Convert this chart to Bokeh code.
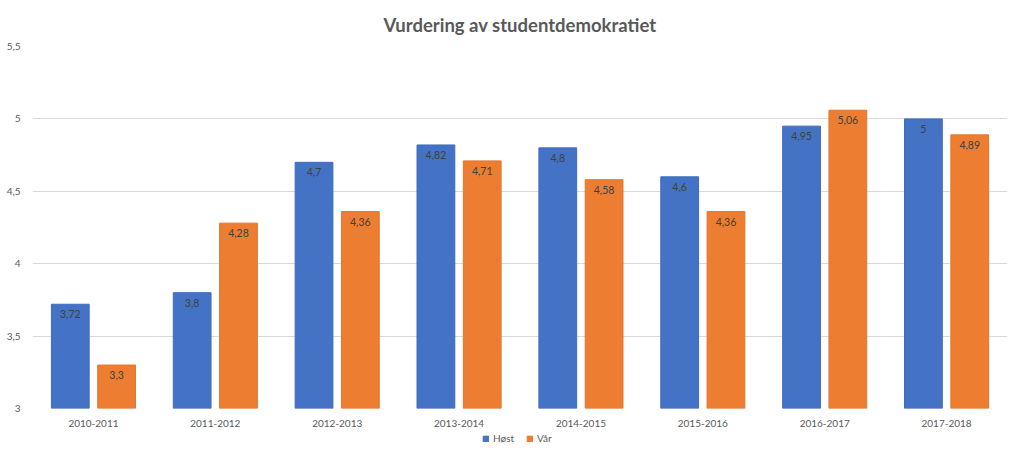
from bokeh.plotting import figure
from bokeh.layouts import column
from bokeh.models import (ColumnDataSource, Range1d, FixedTicker, CustomJSTickFormatter,
                          Legend, LegendItem)
from bokeh.transform import dodge
from bokeh.core.properties import value
from bokeh.embed import file_html
from bokeh.resources import INLINE

years = ["2010-2011", "2011-2012", "2012-2013", "2013-2014",
         "2014-2015", "2015-2016", "2016-2017", "2017-2018"]
host = [3.72, 3.8, 4.7, 4.82, 4.8, 4.6, 4.95, 5.0]
var = [3.3, 4.28, 4.36, 4.71, 4.58, 4.36, 5.06, 4.89]
y_ticks = [3, 3.5, 4, 4.5, 5, 5.5]
series = ["Høst", "Vår"]
colors = ["#4472C4", "#ED7D31"]
edges = ["#3F6CBE", "#E2762C"]

def fmt(v):
    return ("%g" % v).replace(".", ",")

src = ColumnDataSource(dict(
    year=years, host=host, var=var,
    host_lbl=[fmt(v) for v in host], var_lbl=[fmt(v) for v in var],
))

FONT = "Lato"
TXT = "#595959"

p = figure(x_range=years, y_range=Range1d(3, 5.5), width=1008, height=429,
           output_backend="svg", toolbar_location=None,
           title="Vurdering av studentdemokratiet",
           min_border_left=32, min_border_right=1, min_border_top=0, min_border_bottom=20)

p.title.align = "center"
p.title.offset = -6
p.title.text_font = FONT
p.title.text_font_size = "18.5px"
p.title.text_color = TXT
p.title.text_font_style = "bold"
p.title.standoff = 22

r1 = p.vbar(x=dodge("year", -0.19, range=p.x_range), top="host", bottom=3, width=0.31,
            source=src, fill_color=colors[0], line_color=edges[0], line_width=1)
r2 = p.vbar(x=dodge("year", 0.19, range=p.x_range), top="var", bottom=3, width=0.31,
            source=src, fill_color=colors[1], line_color=edges[1], line_width=1)

for col, lbl, off in (("host", "host_lbl", -0.19), ("var", "var_lbl", 0.19)):
    p.text(x=dodge("year", off, range=p.x_range), y=col, text=lbl, source=src,
           text_align="center", text_baseline="top", y_offset=6,
           text_font=value(FONT), text_font_size="10.5px", text_color="#404040")

p.yaxis.ticker = FixedTicker(ticks=y_ticks)
p.yaxis.formatter = CustomJSTickFormatter(code="return tick.toString().replace('.', ',');")
for ax in (p.xaxis[0], p.yaxis[0]):
    ax.axis_line_color = None
    ax.major_tick_line_color = None
    ax.minor_tick_line_color = None
    ax.major_label_text_font = FONT
    ax.major_label_text_font_size = "10px"
    ax.major_label_text_color = TXT
p.yaxis.major_label_standoff = 6
p.xaxis.major_label_standoff = 5

p.xgrid.grid_line_color = None
p.ygrid.grid_line_color = "#D9D9D9"
p.ygrid.grid_line_width = 1
p.outline_line_color = None

# legend strip below the chart (its sample bars sit outside the visible range)
p2 = figure(width=1008, height=18, x_range=Range1d(0, 1), y_range=Range1d(0, 1),
            x_axis_type=None, y_axis_type=None, output_backend="svg", title=None,
            toolbar_location=None, min_border=0)
p2.outline_line_color = None
items = []
for name, c, e in zip(series, colors, edges):
    r = p2.vbar(x=[-5], top=[-5], bottom=[-6], width=0.1, fill_color=c, line_color=e)
    items.append(LegendItem(label=name, renderers=[r]))
legend = Legend(items=items, orientation="horizontal", location=(450, 1),
                label_text_font=FONT, label_text_font_size="10px", label_text_color=TXT,
                glyph_width=7, glyph_height=7, label_height=16, spacing=12, padding=0,
                margin=0, label_standoff=4, border_line_color=None,
                background_fill_alpha=0)
p2.add_layout(legend, "center")

layout = column(p, p2, spacing=0)
open("out.html", "w").write(file_html(layout, INLINE))
